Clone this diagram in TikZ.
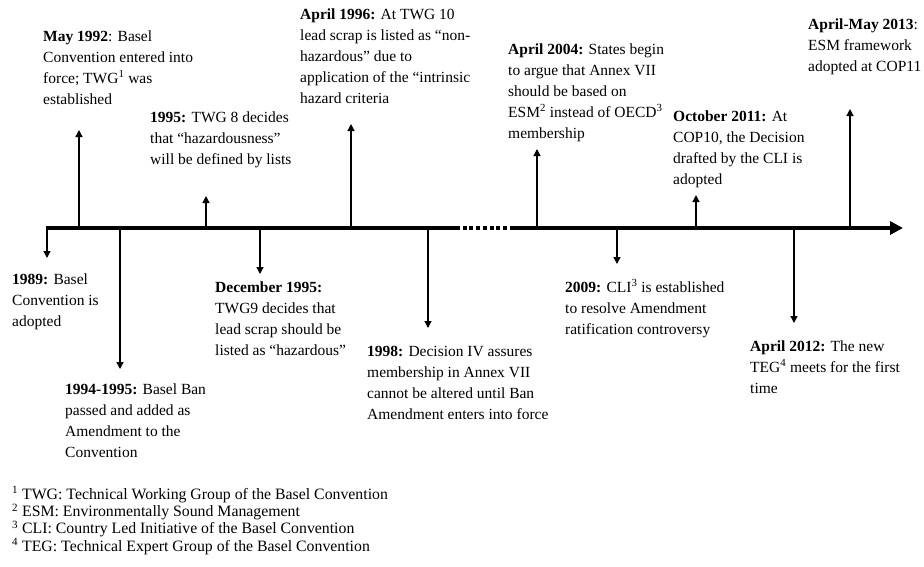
\documentclass[tikz,border=0pt]{standalone}
\usepackage{fontspec}
\setmainfont{Liberation Serif}
\usetikzlibrary{arrows.meta}
\begin{document}
\begin{tikzpicture}[x=1pt,y=-1pt,
  lbl/.style={anchor=base west,inner sep=0pt,font=\fontsize{15.5}{21}\selectfont},
  fnote/.style={anchor=base west,inner sep=0pt,font=\fontsize{15.8}{17.4}\selectfont},
  stub/.style={line width=1.3pt,-{Triangle[length=7pt,width=7pt]}},
  axisline/.style={line width=3.5pt},
  axisdots/.style={line width=3.5pt,dash pattern=on 4pt off 2.7pt},
  axisarrow/.style={line width=3.5pt,-{Triangle[length=13pt,width=13pt]}}
]
\newcommand{\lines}[1]{\begin{tabular}[t]{@{}l@{}}#1\end{tabular}}
\useasboundingbox (0,0) rectangle (924,566);
% axis
\coordinate (a0) at (46,228);
\coordinate (a1) at (456,228);
\coordinate (a2) at (511,228);
\coordinate (a3) at (903,228);
\draw[axisline] (a0) -- (a1);
\draw[axisdots] (a1) -- (a2);
\draw[axisarrow] (a2) -- (a3);
% stubs: base on axis, tip
\coordinate (s89) at (47,228);   \coordinate (e89) at (47,258);
\coordinate (s92) at (79,228);   \coordinate (e92) at (79,130);
\coordinate (s94) at (120,228);  \coordinate (e94) at (120,369);
\coordinate (s95) at (206,228);  \coordinate (e95) at (206,196);
\coordinate (sd95) at (260,228); \coordinate (ed95) at (260,274);
\coordinate (s96) at (351,228);  \coordinate (e96) at (351,124);
\coordinate (s98) at (428,228);  \coordinate (e98) at (428,328);
\coordinate (s04) at (537,228);  \coordinate (e04) at (537,149);
\coordinate (s09) at (617,228);  \coordinate (e09) at (617,264);
\coordinate (s11) at (696,228);  \coordinate (e11) at (696,195);
\coordinate (s12) at (794,228);  \coordinate (e12) at (794,323);
\coordinate (s13) at (850,228);  \coordinate (e13) at (850,109);
\foreach \n in {89,92,94,95,d95,96,98,04,09,11,12,13}
  \draw[stub] (s\n) -- (e\n);
% labels above
\node[lbl] (t92) at (43,41) {\lines{\textbf{May 1992}: Basel\\Convention entered into\\force; TWG\textsuperscript{1} was\\established}};
\node[lbl] (t95) at (150,122) {\lines{\textbf{1995:} TWG 8 decides\\that “hazardousness”\\will be defined by lists}};
\node[lbl] (t96) at (300,19) {\lines{\textbf{April 1996:} At TWG 10\\lead scrap is listed as “non-\\hazardous” due to\\application of the “intrinsic\\hazard criteria}};
\node[lbl] (t04) at (508,54) {\lines{\textbf{April 2004:} States begin\\to argue that Annex VII\\should be based on\\ESM\textsuperscript{2} instead of OECD\textsuperscript{3}\\membership}};
\node[lbl] (t11) at (673,121) {\lines{\textbf{October 2011:} At\\COP10, the Decision\\drafted by the CLI is\\adopted}};
\node[lbl] (t13) at (808,29) {\lines{\textbf{April-May 2013}:\\ESM framework\\adopted at COP11}};
% labels below
\node[lbl] (t89) at (12,284) {\lines{\textbf{1989:} Basel\\Convention is\\adopted}};
\node[lbl] (t94) at (65,394) {\lines{\textbf{1994-1995:} Basel Ban\\passed and added as\\Amendment to the\\Convention}};
\node[lbl] (td95) at (215,292) {\lines{\textbf{December 1995:}\\TWG9 decides that\\lead scrap should be\\listed as “hazardous”}};
\node[lbl] (t98) at (367,356) {\lines{\textbf{1998:} Decision IV assures\\membership in Annex VII\\cannot be altered until Ban\\Amendment enters into force}};
\node[lbl] (t09) at (565,292) {\lines{\textbf{2009:} CLI\textsuperscript{3} is established\\to resolve Amendment\\ratification controversy}};
\node[lbl] (t12) at (750,351) {\lines{\textbf{April 2012:} The new\\TEG\textsuperscript{4} meets for the first\\time}};
% footnotes
\node[fnote] (f1) at (12,499) {\textsuperscript{1} TWG: Technical Working Group of the Basel Convention};
\node[fnote] (f2) at (12,516.4) {\textsuperscript{2} ESM: Environmentally Sound Management};
\node[fnote] (f3) at (12,533.8) {\textsuperscript{3} CLI: Country Led Initiative of the Basel Convention};
\node[fnote] (f4) at (12,551.2) {\textsuperscript{4} TEG: Technical Expert Group of the Basel Convention};
\end{tikzpicture}
\end{document}
